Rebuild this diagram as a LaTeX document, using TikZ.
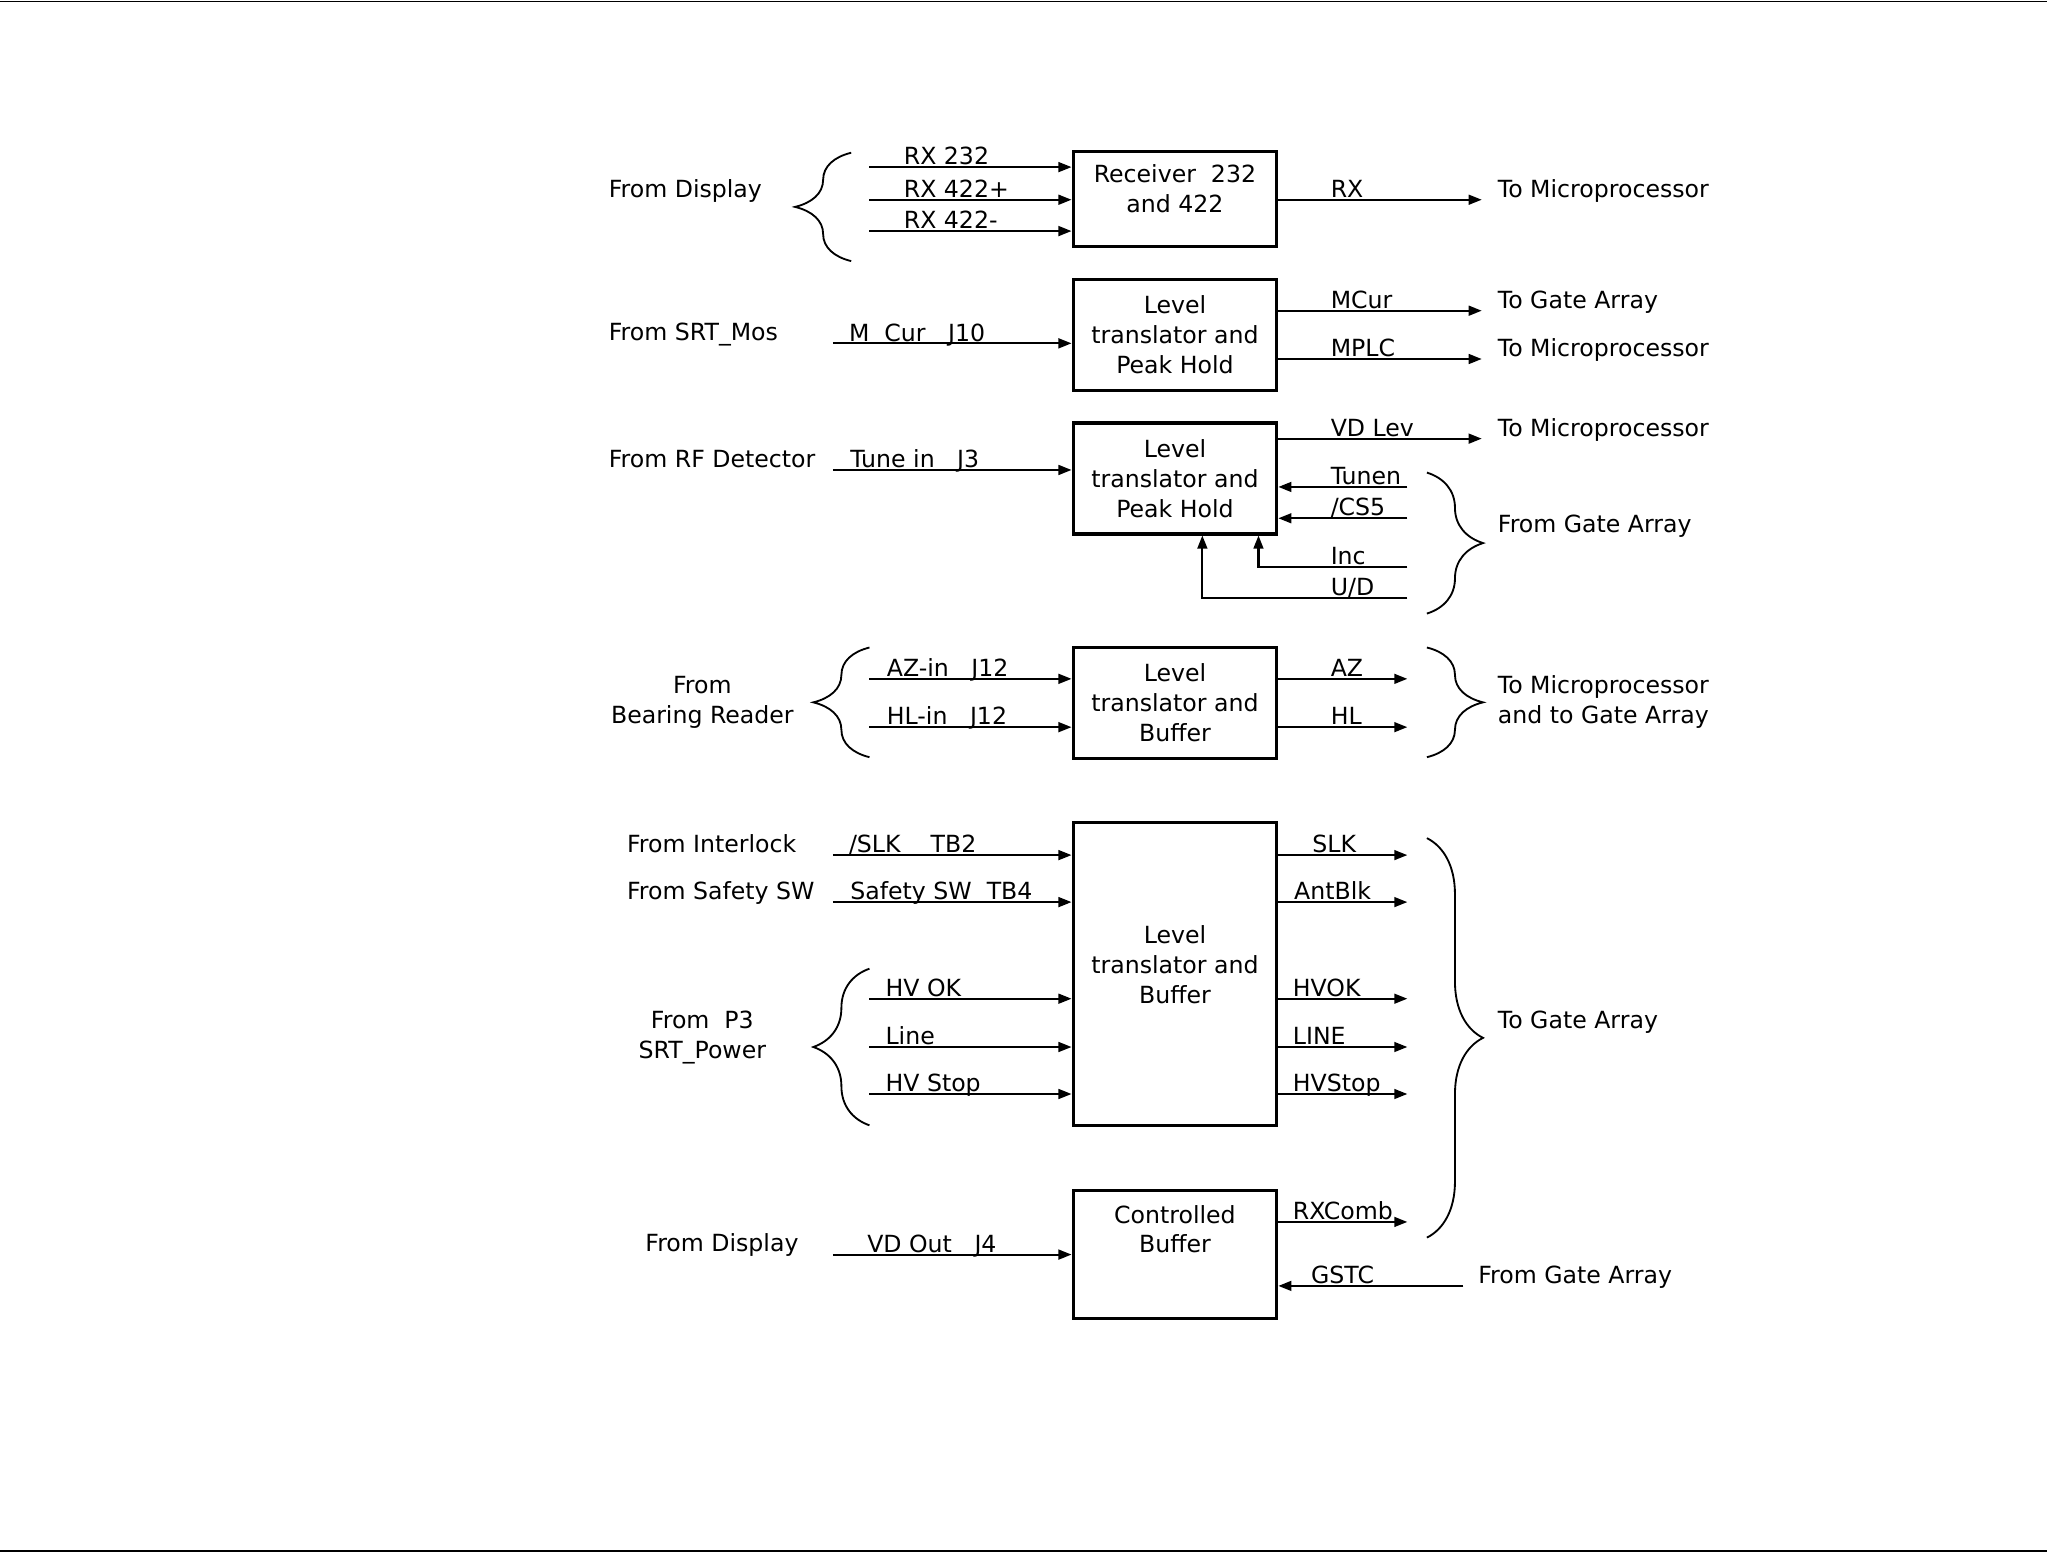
\documentclass[tikz,border=0pt]{standalone}
\usepackage{fontspec}
\setmainfont{DejaVu Sans}
\usetikzlibrary{arrows.meta,decorations.pathreplacing}

\begin{document}
\begin{tikzpicture}[x=0.02cm,y=-0.02cm,
  font=\fontsize{10.3}{13}\selectfont,
  >={Triangle[length=0.2cm,width=0.15cm]},
  sig/.style={line width=0.9pt},
  blk/.style={draw,line width=1.4pt,minimum width=3.12cm,align=center,inner sep=0pt},
  wlab/.style={anchor=base west,inner sep=0pt,yshift=1pt},
  txt/.style={anchor=base west,inner sep=0pt},
  brc/.style={decorate,decoration={brace,amplitude=0.86cm},line width=0.8pt}]
\useasboundingbox (0,0) rectangle (1568,1189);
\draw[line width=0.6pt] (0,1) -- (1568,1);
\draw[line width=0.6pt] (0,1188) -- (1568,1188);

% receiver
\node[blk,minimum height=1.46cm] (recv) at (900,152.5) {};
\node[align=center,inner sep=0pt] (recvt) at ([yshift=0.16cm]recv.center) {Receiver\ \ 232\\and 422};
\node[txt] (fdisp) at (466,151) {From Display};
\draw[brc] (652,200) -- (652,117);
\coordinate (rxa) at (666,128);
\coordinate (rxb) at (666,153);
\coordinate (rxc) at (666,177);
\draw[sig,->] (rxa) -- (rxa -| recv.west);
\draw[sig,->] (rxb) -- (rxb -| recv.west);
\draw[sig,->] (rxc) -- (rxc -| recv.west);
\node[wlab] (lrxa) at (692,128) {RX 232};
\node[wlab] (lrxb) at (692,153) {RX 422+};
\node[wlab] (lrxc) at (692,177) {RX 422-};
\coordinate (rxo) at (1135,153);
\draw[sig,->] (rxo -| recv.east) -- (rxo);
\node[wlab] (lrx) at (1019,153) {RX};
\node[txt] (tompa) at (1147,151) {To Microprocessor};

% peak hold, motor current
\node[blk,minimum height=1.7cm] (pka) at (900,256.5) {Level\\translator and\\Peak Hold};
\node[txt] (fmos) at (466,261) {From SRT\_Mos};
\coordinate (mcin) at (638,263);
\draw[sig,->] (mcin) -- (mcin -| pka.west);
\node[wlab] (lmcin) at (650,263) {M\ \ Cur\ \ \ J10};
\coordinate (mcur) at (1135,238);
\coordinate (mplc) at (1135,275);
\draw[sig,->] (mcur -| pka.east) -- (mcur);
\draw[sig,->] (mplc -| pka.east) -- (mplc);
\node[wlab] (lmcur) at (1019,238) {MCur};
\node[wlab] (lmplc) at (1019,275) {MPLC};
\node[txt] (toga) at (1147,236) {To Gate Array};
\node[txt] (tompb) at (1147,273) {To Microprocessor};

% peak hold, tuning
\node[blk,minimum height=1.7cm] (pkb) at (900,366.5) {Level\\translator and\\Peak Hold};
\node[txt] (frf) at (466,358) {From RF Detector};
\coordinate (tunin) at (638,360);
\draw[sig,->] (tunin) -- (tunin -| pkb.west);
\node[wlab] (ltunin) at (651,360) {Tune in\ \ \ J3};
\coordinate (vdlev) at (1135,336);
\draw[sig,->] (vdlev -| pkb.east) -- (vdlev);
\node[wlab] (lvdlev) at (1019,336) {VD Lev};
\node[txt] (tompc) at (1147,334) {To Microprocessor};
\coordinate (tunen) at (1078,373);
\coordinate (csf) at (1078,397);
\coordinate (incf) at (1078,434);
\coordinate (udf) at (1078,458);
\draw[sig,->] (tunen) -- (tunen -| pkb.east);
\draw[sig,->] (csf) -- (csf -| pkb.east);
\draw[sig,->] (incf) -| ([xshift=1.28cm]pkb.south);
\draw[sig,->] (udf) -| ([xshift=0.42cm]pkb.south);
\node[wlab] (ltunen) at (1019,373) {Tunen};
\node[wlab] (lcsf) at (1019,397) {/CS5};
\node[wlab] (lincf) at (1019,434) {Inc};
\node[wlab] (ludf) at (1019,458) {U/D};
\draw[brc] (1093,362) -- (1093,470);
\node[txt] (fgaa) at (1147,408) {From Gate Array};

% bearing reader buffer
\node[blk,minimum height=1.7cm] (bufa) at (900,538.5) {Level\\translator and\\Buffer};
\node[align=center,inner sep=0pt] (fbear) at (538,538) {From\\Bearing Reader};
\draw[brc] (666,580) -- (666,496);
\coordinate (azin) at (666,520);
\coordinate (hlin) at (666,557);
\draw[sig,->] (azin) -- (azin -| bufa.west);
\draw[sig,->] (hlin) -- (hlin -| bufa.west);
\node[wlab] (lazin) at (679,520) {AZ-in\ \ \ J12};
\node[wlab] (lhlin) at (679,557) {HL-in\ \ \ J12};
\coordinate (azo) at (1078,520);
\coordinate (hlo) at (1078,557);
\draw[sig,->] (azo -| bufa.east) -- (azo);
\draw[sig,->] (hlo -| bufa.east) -- (hlo);
\node[wlab] (lazo) at (1019,520) {AZ};
\node[wlab] (lhlo) at (1019,557) {HL};
\draw[brc] (1093,496) -- (1093,580);
\node[anchor=west,align=left,inner sep=0pt] (tompd) at (1147,538) {To Microprocessor\\and to Gate Array};

% interlock and power buffer
\node[blk,minimum height=4.64cm] (bufb) at (900,746) {};
\node[align=center,inner sep=0pt] (bufbt) at ([yshift=0.14cm]bufb.center) {Level\\translator and\\Buffer};
\node[txt] (fint) at (480,653) {From Interlock};
\node[txt] (fsafe) at (480,689) {From Safety SW};
\coordinate (slkin) at (638,655);
\coordinate (safin) at (638,691);
\draw[sig,->] (slkin) -- (slkin -| bufb.west);
\draw[sig,->] (safin) -- (safin -| bufb.west);
\node[wlab] (lslkin) at (650,655) {/SLK\ \ \ \ TB2};
\node[wlab] (lsafin) at (651,691) {Safety SW\ \ TB4};
\node[align=center,inner sep=0pt] (fpow) at (538,795) {From\ \ P3\\SRT\_Power};
\draw[brc] (666,862) -- (666,742);
\coordinate (hvok) at (666,765);
\coordinate (line) at (666,802);
\coordinate (hvst) at (666,838);
\draw[sig,->] (hvok) -- (hvok -| bufb.west);
\draw[sig,->] (line) -- (line -| bufb.west);
\draw[sig,->] (hvst) -- (hvst -| bufb.west);
\node[wlab] (lhvok) at (678,765) {HV OK};
\node[wlab] (lline) at (678,802) {Line};
\node[wlab] (lhvst) at (678,838) {HV Stop};
\coordinate (slko) at (1078,655);
\coordinate (antb) at (1078,691);
\coordinate (hvoko) at (1078,765);
\coordinate (lineo) at (1078,802);
\coordinate (hvsto) at (1078,838);
\draw[sig,->] (slko -| bufb.east) -- (slko);
\draw[sig,->] (antb -| bufb.east) -- (antb);
\draw[sig,->] (hvoko -| bufb.east) -- (hvoko);
\draw[sig,->] (lineo -| bufb.east) -- (lineo);
\draw[sig,->] (hvsto -| bufb.east) -- (hvsto);
\node[wlab] (lslko) at (1005,655) {SLK};
\node[wlab] (lantb) at (991,691) {AntBlk};
\node[wlab] (lhvoko) at (990,765) {HVOK};
\node[wlab] (llineo) at (990,802) {LINE};
\node[wlab] (lhvsto) at (990,838) {HVStop};
\draw[brc] (1093,642) -- (1093,948);
\node[txt] (togb) at (1147,788) {To Gate Array};

% controlled buffer
\node[blk,minimum height=1.96cm] (cbuf) at (900,961) {};
\node[align=center,inner sep=0pt] (cbuft) at ([yshift=0.39cm]cbuf.center) {Controlled\\Buffer};
\node[txt] (fdispb) at (494,959) {From Display};
\coordinate (vdout) at (638,961);
\draw[sig,->] (vdout) -- (vdout -| cbuf.west);
\node[wlab] (lvdout) at (664,961) {VD Out\ \ \ J4};
\coordinate (rxcomb) at (1078,936);
\draw[sig,->] (rxcomb -| cbuf.east) -- (rxcomb);
\node[wlab] (lrxcomb) at (990,936) {RXComb};
\coordinate (gstc) at (1121,985);
\draw[sig,->] (gstc) -- (gstc -| cbuf.east);
\node[wlab] (lgstc) at (1004,985) {GSTC};
\node[txt] (fgab) at (1132,983) {From Gate Array};
\end{tikzpicture}
\end{document}
